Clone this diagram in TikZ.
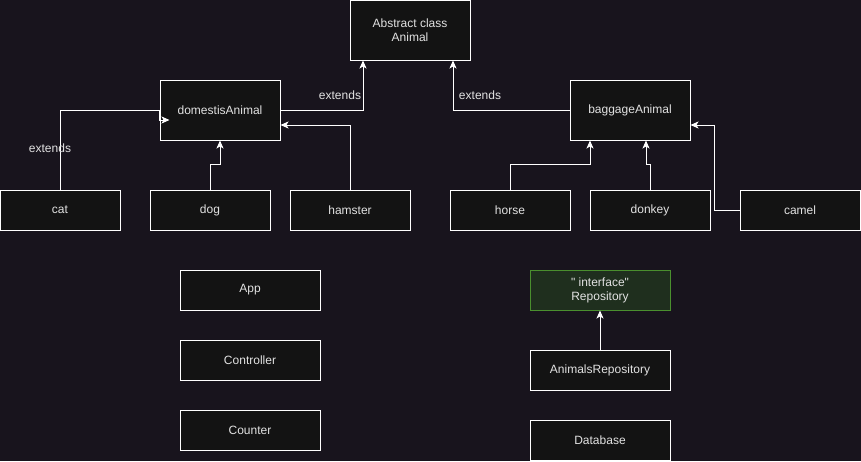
\documentclass[tikz,border=0pt]{standalone}
\usepackage{fontspec}
\setmainfont{Liberation Sans}[Ligatures=TeXOff]
\usetikzlibrary{arrows.meta}
\definecolor{bg}{HTML}{18141D}
\definecolor{boxfill}{HTML}{131313}
\definecolor{txt}{HTML}{E2E2E2}
\definecolor{ifill}{HTML}{1F2F1E}
\definecolor{iline}{HTML}{4A8F2E}
\begin{document}
\begin{tikzpicture}[x=1pt,y=-1pt,
  every node/.style={font=\fontsize{12}{14}\selectfont, text=txt},
  cls/.style={draw=white, fill=boxfill, line width=1pt, minimum width=#1, inner sep=0pt, align=center},
  cls/.default=120pt,
  conn/.style={draw=white, line width=1pt, -{Stealth[length=8pt,width=7pt,inset=2pt]}}]
\fill[bg] (0,0) rectangle (861,461);
\useasboundingbox (0,0) rectangle (861,461);
\node[cls, minimum height=60pt] (abs) at (410,30) {Abstract class\\Animal};
\node[cls, minimum height=60pt] (dom) at (220,110) {domestisAnimal};
\node[cls, minimum height=60pt] (bag) at (630,110) {baggageAnimal};
\node[cls, minimum height=40pt] (cat) at (60,210) {cat};
\node[cls, minimum height=40pt] (dog) at (210,210) {dog};
\node[cls, minimum height=40pt] (ham) at (350,210) {hamster};
\node[cls, minimum height=40pt] (horse) at (510,210) {horse};
\node[cls, minimum height=40pt] (donkey) at (650,210) {donkey};
\node[cls, minimum height=40pt] (camel) at (800,210) {camel};
\node[cls=140pt, minimum height=40pt] (app) at (250,290) {App};
\node[cls=140pt, minimum height=40pt] (ctrl) at (250,360) {Controller};
\node[cls=140pt, minimum height=40pt] (cnt) at (250,430) {Counter};
\node[cls=140pt, minimum height=40pt, draw=iline, fill=ifill] (repo) at (600,290) {" interface"\\Repository};
\node[cls=140pt, minimum height=40pt] (arepo) at (600,370) {AnimalsRepository};
\node[cls=140pt, minimum height=40pt] (db) at (600,440) {Database};
% edges
\draw[conn] (dom.east) -| ([xshift=-47pt]abs.south);
\draw[conn] (bag.west) -| ([xshift=43pt]abs.south);
\draw[conn] (cat.north) |- (dom.west) -- ++(0,10) -- ++(10,0);
\draw[conn] (dog.north) -- ++(0,-25) -| (dom.south);
\draw[conn] (ham.north) |- ([yshift=-15pt]dom.east);
\draw[conn] (horse.north) -- ++(0,-25) -| ([xshift=-40pt]bag.south);
\draw[conn] (donkey.north) -- ++(0,-25) -| ([xshift=16pt]bag.south);
\draw[conn] (camel.west) -- ++(-25,0) |- ([yshift=-15pt]bag.east);
\draw[conn] (arepo.north) -- (repo.south);
% labels
\node (l1) at (340,95) {extends};
\node (l2) at (480,95) {extends};
\node (l3) at (50,148) {extends};
\end{tikzpicture}
\end{document}
